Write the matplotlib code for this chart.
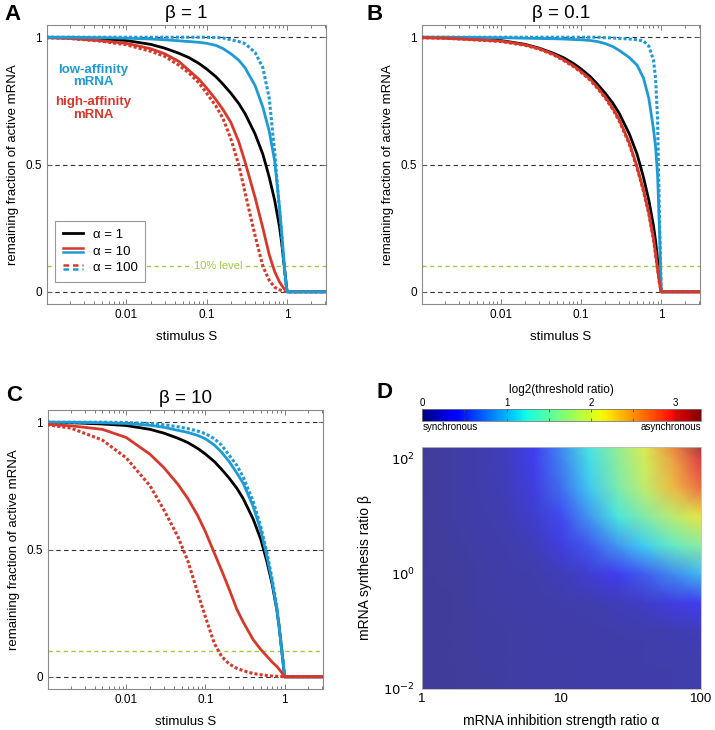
import numpy as np
import matplotlib
matplotlib.use('Agg')
import matplotlib.pyplot as plt
from matplotlib.lines import Line2D
from matplotlib.legend_handler import HandlerBase
from matplotlib.colors import Normalize, ListedColormap
from matplotlib.cm import ScalarMappable
from matplotlib.ticker import LogLocator, NullFormatter, MultipleLocator

plt.rcParams['font.family'] = ['Liberation Sans', 'DejaVu Sans']

RED = '#d7382a'
BLUE = '#1e9ad6'
GREEN = '#9ccc3c'

# stimulus values (shared x for all curves)
S = [0.001, 0.002, 0.005, 0.01, 0.02, 0.03, 0.045, 0.06, 0.08, 0.1, 0.13, 0.16, 0.2,
     0.25, 0.3, 0.4, 0.5, 0.6, 0.7, 0.8, 0.85, 0.9, 0.95, 1.0, 3.0]

# alpha = 1 (same in every panel)
black_all = [1.0, 0.998, 0.993, 0.987, 0.972, 0.957, 0.937, 0.92, 0.897, 0.875, 0.845, 0.815, 0.78,
             0.74, 0.70, 0.62, 0.54, 0.45, 0.36, 0.26, 0.20, 0.13, 0.065, 0, 0]

# panel A, beta = 1
a_blue10 = [1.0, 1.0, 0.998, 0.996, 0.993, 0.99, 0.986, 0.983, 0.98, 0.976, 0.968, 0.955, 0.935,
            0.91, 0.88, 0.81, 0.725, 0.63, 0.515, 0.34, 0.245, 0.15, 0.06, 0, 0]
a_blue100 = [1.0, 1.0, 1.0, 1.0, 1.0, 1.0, 1.0, 1.0, 1.0, 1.0, 0.999, 0.997, 0.99,
             0.983, 0.975, 0.94, 0.88, 0.76, 0.55, 0.33, 0.24, 0.13, 0.05, 0, 0]
a_red10 = [0.998, 0.995, 0.986, 0.976, 0.955, 0.935, 0.905, 0.87, 0.835, 0.80, 0.755, 0.715, 0.665,
           0.59, 0.51, 0.37, 0.25, 0.145, 0.08, 0.04, 0.027, 0.016, 0.007, 0, 0]
a_red100 = [0.998, 0.995, 0.984, 0.97, 0.945, 0.925, 0.89, 0.86, 0.82, 0.78, 0.73, 0.68, 0.60,
            0.50, 0.39, 0.22, 0.10, 0.045, 0.018, 0.008, 0.005, 0.003, 0.001, 0, 0]

# panel B, beta = 0.1
b_blue10 = [1.0, 1.0, 0.999, 0.998, 0.996, 0.995, 0.994, 0.993, 0.991, 0.99, 0.987, 0.983, 0.975,
            0.963, 0.948, 0.92, 0.89, 0.84, 0.76, 0.64, 0.57, 0.46, 0.25, 0, 0]
b_blue100 = [1.0, 1.0, 1.0, 1.0, 1.0, 1.0, 1.0, 1.0, 1.0, 1.0, 1.0, 1.0, 0.998,
             0.997, 0.995, 0.993, 0.99, 0.985, 0.965, 0.91, 0.84, 0.68, 0.30, 0, 0]
b_red10 = [0.998, 0.996, 0.99, 0.985, 0.97, 0.955, 0.933, 0.912, 0.888, 0.865, 0.835, 0.803, 0.765,
           0.72, 0.675, 0.585, 0.49, 0.40, 0.31, 0.21, 0.15, 0.09, 0.035, 0, 0]
b_red100 = [0.998, 0.996, 0.989, 0.983, 0.968, 0.953, 0.931, 0.909, 0.885, 0.862, 0.831, 0.799, 0.761,
            0.715, 0.67, 0.58, 0.485, 0.395, 0.305, 0.205, 0.146, 0.087, 0.033, 0, 0]

# panel C, beta = 10
c_blue10 = [1.0, 1.0, 0.998, 0.995, 0.988, 0.98, 0.968, 0.96, 0.948, 0.935, 0.91, 0.882, 0.845,
            0.80, 0.76, 0.67, 0.575, 0.47, 0.37, 0.26, 0.20, 0.13, 0.065, 0, 0]
c_blue100 = [1.0, 1.0, 1.0, 0.999, 0.995, 0.99, 0.982, 0.975, 0.965, 0.955, 0.935, 0.91, 0.87,
             0.83, 0.785, 0.69, 0.59, 0.485, 0.38, 0.27, 0.20, 0.135, 0.065, 0, 0]
c_red10 = [0.992, 0.986, 0.972, 0.94, 0.874, 0.821, 0.756, 0.70, 0.633, 0.57, 0.485, 0.418, 0.343,
           0.264, 0.215, 0.146, 0.107, 0.08, 0.057, 0.04, 0.03, 0.02, 0.01, 0, 0]
c_red100 = [0.99, 0.977, 0.93, 0.86, 0.75, 0.655, 0.55, 0.455, 0.33, 0.235, 0.13, 0.08, 0.05,
            0.033, 0.024, 0.013, 0.008, 0.005, 0.003, 0.002, 0.0015, 0.001, 0.0005, 0, 0]

# panel D: log2(threshold ratio) on an alpha x beta grid
alpha_nodes = [1, 1.585, 2.512, 3.981, 6.31, 10, 15.85, 25.12, 39.81, 63.1, 100]
beta_nodes = [0.01, 0.0316, 0.1, 0.316, 1, 3.16, 10, 31.6, 100, 160]
ratio_rows = [
    [0.00, 0.00, 0.02, 0.05, 0.06, 0.06, 0.07, 0.07, 0.07, 0.08, 0.08],
    [0.00, 0.00, 0.03, 0.05, 0.06, 0.06, 0.07, 0.07, 0.08, 0.08, 0.09],
    [0.00, 0.00, 0.03, 0.05, 0.06, 0.07, 0.07, 0.08, 0.09, 0.11, 0.14],
    [0.00, 0.01, 0.04, 0.06, 0.07, 0.08, 0.10, 0.14, 0.20, 0.30, 0.42],
    [0.00, 0.02, 0.05, 0.07, 0.09, 0.14, 0.25, 0.40, 0.58, 0.78, 1.00],
    [0.00, 0.03, 0.06, 0.09, 0.14, 0.30, 0.55, 0.85, 1.12, 1.38, 1.62],
    [0.00, 0.04, 0.07, 0.11, 0.22, 0.48, 0.85, 1.22, 1.55, 1.88, 2.15],
    [0.01, 0.04, 0.08, 0.13, 0.30, 0.65, 1.08, 1.50, 1.92, 2.35, 2.75],
    [0.01, 0.05, 0.09, 0.15, 0.36, 0.75, 1.18, 1.60, 2.02, 2.50, 3.00],
    [0.01, 0.05, 0.09, 0.16, 0.38, 0.78, 1.22, 1.65, 2.07, 2.62, 3.25],
]

W, H = 715, 730
fig = plt.figure(figsize=(W / 100, H / 100), dpi=100)


def box(l, t, r, b):
    return [l / W, 1 - b / H, (r - l) / W, (b - t) / H]


def style_curve_ax(ax, title):
    ax.set_xscale('log')
    ax.set_xlim(0.00103, 3.05)
    ax.set_ylim(-0.048, 1.048)
    for yv in [0, 0.5, 1]:
        ax.axhline(yv, color='#333333', ls=(0, (4, 3)), lw=0.8, zorder=1)
    ax.axhline(0.1, color=GREEN, ls=(0, (3, 2.5)), lw=1.0, zorder=1)
    ax.set_xticks([0.01, 0.1, 1])
    ax.set_xticklabels(['0.01', '0.1', '1'])
    ax.xaxis.set_minor_locator(LogLocator(base=10, subs=np.arange(2, 10)))
    ax.xaxis.set_minor_formatter(NullFormatter())
    ax.set_yticks([0, 0.5, 1])
    ax.set_yticklabels(['0', '0.5', '1'])
    ax.tick_params(which='both', direction='in', top=True, right=True, labelsize=8.5,
                   color='#666666', width=0.6)
    ax.tick_params(which='major', length=3.5)
    ax.tick_params(which='minor', length=2)
    for sp in ax.spines.values():
        sp.set_color('#8a8a8a')
        sp.set_linewidth(0.8)
    ax.set_xlabel('stimulus S', fontsize=9.5, labelpad=7)
    ax.set_ylabel('remaining fraction of active mRNA', fontsize=9.5, labelpad=5)
    ax.set_title(title, fontsize=13.5, pad=5)


def draw(ax, series):
    for y, col, dotted in series:
        if dotted:
            ax.plot(S, y, color=col, lw=2.2, ls=(0, (1, 0.7)), dash_capstyle='butt', zorder=3)
        else:
            ax.plot(S, y, color=col, lw=2.0, zorder=3, solid_joinstyle='round')


axA = fig.add_axes(box(47, 25, 326, 304))
style_curve_ax(axA, 'β = 1')
draw(axA, [(black_all, 'black', False), (a_red100, RED, True), (a_red10, RED, False),
           (a_blue100, BLUE, True), (a_blue10, BLUE, False)])
axA.text(0.165, 0.818, 'low-affinity\nmRNA', transform=axA.transAxes, color=BLUE,
         fontsize=9.5, fontweight='bold', ha='center', va='center', linespacing=1.05)
axA.text(0.165, 0.70, 'high-affinity\nmRNA', transform=axA.transAxes, color=RED,
         fontsize=9.5, fontweight='bold', ha='center', va='center', linespacing=1.05)
axA.text(0.14, 0.1, '10% level', color=GREEN, fontsize=8, ha='center', va='center', zorder=2,
         bbox=dict(facecolor='white', edgecolor='none', pad=1.0))


class PairHandler(HandlerBase):
    def __init__(self, dotted):
        super().__init__()
        self.dotted = dotted

    def create_artists(self, legend, orig_handle, xdescent, ydescent, width, height, fontsize, trans):
        arts = []
        yc = height / 2 - ydescent
        for dy, col in [(1.3, RED), (-1.3, BLUE)]:
            ln = Line2D([-xdescent, width - xdescent], [yc + dy, yc + dy], color=col, lw=1.8,
                        transform=trans)
            if self.dotted:
                ln.set_dashes([2.2, 1.6])
                ln.set_dash_capstyle('butt')
            arts.append(ln)
        return arts


h1 = Line2D([], [], color='black', lw=2.0)
h10 = Line2D([], [], color=RED)
h100 = Line2D([], [], color=RED)
leg = axA.legend([h1, h10, h100], ['α = 1', 'α = 10', 'α = 100'],
                 handler_map={h10: PairHandler(False), h100: PairHandler(True)},
                 loc='lower left', bbox_to_anchor=(0.03, 0.08), borderaxespad=0,
                 fontsize=9.5, handlelength=1.55, handletextpad=0.75, labelspacing=0.35,
                 borderpad=0.55, fancybox=False, framealpha=1)
leg.get_frame().set_edgecolor('#999999')
leg.get_frame().set_linewidth(0.8)
leg.set_zorder(5)

axB = fig.add_axes(box(422, 25, 700, 304))
style_curve_ax(axB, 'β = 0.1')
draw(axB, [(black_all, 'black', False), (b_blue100, BLUE, True), (b_blue10, BLUE, False),
           (b_red100, RED, True), (b_red10, RED, False)])

axC = fig.add_axes(box(48, 410, 323, 689))
style_curve_ax(axC, 'β = 10')
draw(axC, [(black_all, 'black', False), (c_blue100, BLUE, True), (c_blue10, BLUE, False),
           (c_red100, RED, True), (c_red10, RED, False)])

# panel D heatmap (jet, a bit washed out like the original)
norm = Normalize(vmin=0, vmax=3.3)
jet = plt.get_cmap('jet')(np.linspace(0, 1, 256))
muted = jet * 0.68 + 0.32 * np.array([0.78, 0.75, 0.82, 1.0])
muted[:, 3] = 1.0
muted_cmap = ListedColormap(muted)

axD = fig.add_axes(box(422, 447, 701, 689))
AA, BB = np.meshgrid(alpha_nodes, beta_nodes)
axD.pcolormesh(AA, BB, np.array(ratio_rows), cmap=muted_cmap, norm=norm, shading='gouraud')
axD.set_xscale('log')
axD.set_yscale('log')
axD.set_xlim(1, 100)
axD.set_ylim(0.01, 160)
axD.set_xticks([1, 10, 100])
axD.set_xticklabels(['1', '10', '100'])
axD.set_yticks([0.01, 1, 100])
axD.set_yticklabels(['$10^{-2}$', '$10^{0}$', '$10^{2}$'])
axD.minorticks_off()
axD.tick_params(length=0, labelsize=9.5)
axD.tick_params(axis='x', pad=3)
axD.tick_params(axis='y', pad=5)
for sp in axD.spines.values():
    sp.set_color('#bbbbbb')
    sp.set_linewidth(0.6)
axD.set_xlabel('mRNA inhibition strength ratio α', fontsize=10, labelpad=6)
axD.set_ylabel('mRNA synthesis ratio β', fontsize=10, labelpad=8)

cax = fig.add_axes(box(422, 409, 701, 421))
cb = fig.colorbar(ScalarMappable(norm=norm, cmap='jet'), cax=cax, orientation='horizontal')
cb.set_ticks([0, 1, 2, 3])
cax.xaxis.set_ticks_position('top')
cax.xaxis.set_minor_locator(MultipleLocator(0.5))
cax.tick_params(which='both', direction='in', length=2.5, labelsize=7, pad=1,
                color='#444444', width=0.6, top=True, bottom=True)
cb.outline.set_edgecolor('#777777')
cb.outline.set_linewidth(0.6)
fig.text((422 + 701) / 2 / W, 1 - 390 / H, 'log2(threshold ratio)', fontsize=8.5,
         ha='center', va='center')
fig.text(423 / W, 1 - 427 / H, 'synchronous', fontsize=7, ha='left', va='center')
fig.text(701 / W, 1 - 427 / H, 'asynchronous', fontsize=7, ha='right', va='center')

# panel letters
for lab, x, y in [('A', 4, 15), ('B', 366, 15), ('C', 6, 395), ('D', 377, 393)]:
    fig.text(x / W, 1 - y / H, lab, fontsize=16, fontweight='bold', ha='left', va='center')

fig.savefig('out.png', dpi=100)
